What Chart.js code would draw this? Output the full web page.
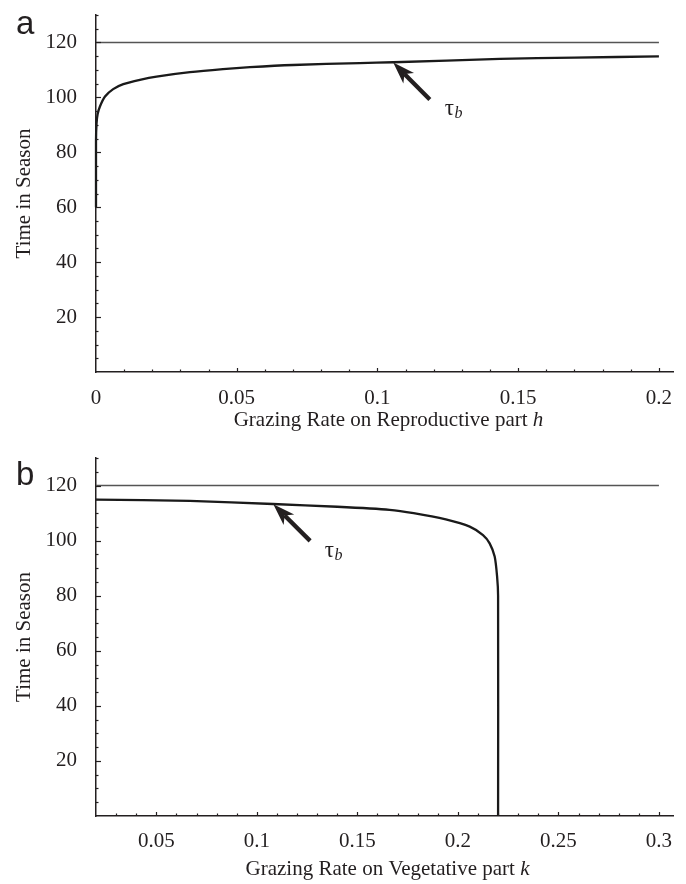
<!DOCTYPE html>
<html>
<head>
<meta charset="utf-8">
<script src="https://cdn.jsdelivr.net/npm/chart.js@4.4.1/dist/chart.umd.min.js"></script>
<style>
html, body { margin: 0; padding: 0; background: #fff; }
#wrap { position: relative; width: 686px; height: 884px; }
.panel { position: absolute; left: 0; width: 686px; }
</style>
</head>
<body>
<div id="wrap">
  <div class="panel" style="top:0;height:440px"><canvas id="chartA" width="686" height="440"></canvas></div>
  <div class="panel" style="top:440px;height:444px"><canvas id="chartB" width="686" height="444"></canvas></div>
</div>
<script>
// panel a: tau_b against grazing rate h
const hVals = [0, 0, 0.0002, 0.0006, 0.0014, 0.0032, 0.0061, 0.0097, 0.0156, 0.0215, 0.0334, 0.0451, 0.0547, 0.07, 0.0937, 0.1056, 0.1435, 0.17, 0.2];
const tauA  = [60, 84, 90.6, 94, 96.7, 100.3, 103, 104.8, 106.4, 107.6, 109.2, 110.3, 111, 111.8, 112.5, 112.8, 114, 114.5, 114.9];

// panel b: tau_b against grazing rate k
const kVals = [0.02, 0.0667, 0.108, 0.14, 0.166, 0.178, 0.194, 0.2059, 0.2125, 0.2158, 0.2183, 0.2195, 0.22, 0.22];
const tauB  = [114.9, 114.4, 113.3, 112.3, 111.2, 110, 107.7, 105.1, 102, 99, 94.2, 87, 80, 0];

// season length line
const seasonA = [[0, 120], [0.2, 120]];
const seasonB = [[0.02, 120], [0.3, 120]];

// tick labels
const hTicks  = [0, 0.05, 0.1, 0.15, 0.2];
const hLabels = ["0", "0.05", "0.1", "0.15", "0.2"];
const kTicks  = [0.05, 0.1, 0.15, 0.2, 0.25, 0.3];
const kLabels = ["0.05", "0.1", "0.15", "0.2", "0.25", "0.3"];
const yTicks  = [20, 40, 60, 80, 100, 120];
const yLabels = ["20", "40", "60", "80", "100", "120"];

// arrow: tip x, tip y, tail x, tail y ; label: x, y
const arrowA = [0.1056, 112.7, 0.1186, 99.2];
const arrowB = [0.1082, 113.2, 0.1265, 99.9];
const tauPosA = [0.1239, 93.7];
const tauPosB = [0.1338, 94.2];

const ink = "#231f20";
const serif = "'Liberation Serif', 'Times New Roman', serif";
const fs = 21;

function pts(xs, ys) {
    return xs.map((x, i) => ({ x: x, y: ys[i] }));
}

// inward ticks, arrow, tau label, panel letter, x title
const decor = {
    id: "decor",
    afterDraw(chart, args, o) {
        const ctx = chart.ctx;
        const xs = chart.scales.x, ys = chart.scales.y;
        const area = chart.chartArea;
        ctx.save();
        ctx.strokeStyle = ink;
        ctx.lineWidth = 1.2;

        // y ticks every 5
        for (let i = Math.ceil(ys.min / 5); i * 5 <= ys.max + 1e-9; i++) {
            const v = i * 5;
            if (v === ys.min) continue;
            const py = Math.round(ys.getPixelForValue(v)) + 0.5;
            const len = yTicks.includes(v) ? 5 : 2.5;
            ctx.beginPath();
            ctx.moveTo(area.left, py);
            ctx.lineTo(area.left + len, py);
            ctx.stroke();
        }
        // x ticks every 0.01
        for (let i = Math.ceil(xs.min / 0.01 - 1e-6); i * 0.01 <= xs.max + 1e-9; i++) {
            const v = i * 0.01;
            if (Math.abs(v - xs.min) < 1e-9) continue;
            const px = Math.round(xs.getPixelForValue(v)) + 0.5;
            const major = o.ticks.some(t => Math.abs(t - v) < 1e-9);
            ctx.beginPath();
            ctx.moveTo(px, area.bottom);
            ctx.lineTo(px, area.bottom - (major ? 4 : 2.5));
            ctx.stroke();
        }

        // arrow
        const a = o.arrow;
        const x1 = xs.getPixelForValue(a[0]), y1 = ys.getPixelForValue(a[1]);
        const x2 = xs.getPixelForValue(a[2]), y2 = ys.getPixelForValue(a[3]);
        const ang = Math.atan2(y2 - y1, x2 - x1);
        const c = Math.cos(ang), s = Math.sin(ang);
        const headLen = 20, headW = 7.5;
        const bx = x1 + c * headLen, by = y1 + s * headLen;
        ctx.fillStyle = ink;
        ctx.strokeStyle = ink;
        ctx.lineWidth = 4.3;
        ctx.beginPath();
        ctx.moveTo(bx - c * 4, by - s * 4);
        ctx.lineTo(x2, y2);
        ctx.stroke();
        ctx.beginPath();
        ctx.moveTo(x1, y1);
        ctx.lineTo(bx - s * headW + c * 2, by + c * headW + s * 2);
        ctx.lineTo(x1 + c * headLen * 0.8, y1 + s * headLen * 0.8);
        ctx.lineTo(bx + s * headW + c * 2, by - c * headW + s * 2);
        ctx.closePath();
        ctx.fill();

        // tau_b label
        const tx = xs.getPixelForValue(o.tau[0]), ty = ys.getPixelForValue(o.tau[1]);
        ctx.textAlign = "left";
        ctx.textBaseline = "alphabetic";
        ctx.font = "23px " + serif;
        ctx.fillText("\u03C4", tx, ty);
        const tw = ctx.measureText("\u03C4").width;
        ctx.font = "italic 16px " + serif;
        ctx.fillText("b", tx + tw + 0.5, ty + 3);

        // panel letter
        ctx.font = "33px 'Liberation Sans', Arial, sans-serif";
        ctx.fillText(o.letter, 16, o.letterY);

        // x axis title, last letter in italics
        ctx.font = fs + "px " + serif;
        const w1 = ctx.measureText(o.title).width;
        ctx.font = "italic " + fs + "px " + serif;
        const w2 = ctx.measureText(o.titleVar).width;
        const cx = (area.left + area.right) / 2 + o.titleShift;
        const start = cx - (w1 + w2) / 2;
        const base = area.bottom + o.titleGap;
        ctx.font = fs + "px " + serif;
        ctx.fillText(o.title, start, base);
        ctx.font = "italic " + fs + "px " + serif;
        ctx.fillText(o.titleVar, start + w1, base);
        ctx.restore();
    }
};

function makeChart(id, cfg) {
    return new Chart(document.getElementById(id), {
        type: "scatter",
        data: {
            datasets: [
                {
                    data: cfg.season.map(p => ({ x: p[0], y: p[1] })),
                    showLine: true,
                    borderColor: "#555555",
                    borderWidth: 1.6,
                    pointRadius: 0,
                    clip: false
                },
                {
                    data: cfg.curve,
                    showLine: true,
                    borderColor: "#1a1a1a",
                    borderWidth: 2.3,
                    pointRadius: 0,
                    tension: 0.25,
                    clip: false
                }
            ]
        },
        options: {
            responsive: false,
            animation: false,
            layout: { padding: { left: 0, top: cfg.padTop, right: cfg.padRight, bottom: 0 } },
            plugins: {
                legend: { display: false },
                tooltip: { enabled: false },
                decor: cfg.decor
            },
            scales: {
                x: {
                    type: "linear",
                    min: cfg.xMin,
                    max: cfg.xMax,
                    grid: { display: false, drawTicks: false },
                    border: { display: true, color: ink, width: 1.5 },
                    ticks: {
                        color: ink,
                        font: { family: serif, size: fs },
                        padding: cfg.xPad,
                        maxRotation: 0,
                        autoSkip: false,
                        callback: (v, i) => cfg.labels[i]
                    },
                    afterBuildTicks: s => { s.ticks = cfg.ticks.map(v => ({ value: v })); },
                    afterFit: s => { s.height = cfg.xHeight; s.paddingLeft = 0; s.paddingRight = 0; }
                },
                y: {
                    type: "linear",
                    min: 0,
                    max: 130,
                    grid: { display: false, drawTicks: false },
                    border: { display: true, color: ink, width: 1.5 },
                    ticks: {
                        color: ink,
                        font: { family: serif, size: fs },
                        padding: 19,
                        autoSkip: false,
                        callback: (v, i) => yLabels[i]
                    },
                    title: {
                        display: true,
                        text: "Time in Season",
                        color: ink,
                        font: { family: serif, size: 21 },
                        padding: { top: 12, bottom: 0 }
                    },
                    afterBuildTicks: s => { s.ticks = yTicks.map(v => ({ value: v })); },
                    afterFit: s => { s.width = 96; s.paddingTop = 0; s.paddingBottom = 0; }
                }
            }
        },
        plugins: [decor]
    });
}

makeChart("chartA", {
    curve: pts(hVals, tauA),
    season: seasonA,
    xMin: 0, xMax: 0.205,
    ticks: hTicks, labels: hLabels,
    padTop: 15, padRight: 13, xHeight: 68, xPad: 14,
    decor: { ticks: hTicks, arrow: arrowA, tau: tauPosA, letter: "a", letterY: 34,
             title: "Grazing Rate on Reproductive part ", titleVar: "h", titleGap: 53.5, titleShift: 4 }
});

makeChart("chartB", {
    curve: pts(kVals, tauB),
    season: seasonB,
    xMin: 0.02, xMax: 0.307,
    ticks: kTicks, labels: kLabels,
    padTop: 18, padRight: 13, xHeight: 68, xPad: 13,
    decor: { ticks: kTicks, arrow: arrowB, tau: tauPosB, letter: "b", letterY: 45,
             title: "Grazing Rate on Vegetative part ", titleVar: "k", titleGap: 59.3, titleShift: 3 }
});
</script>
</body>
</html>
